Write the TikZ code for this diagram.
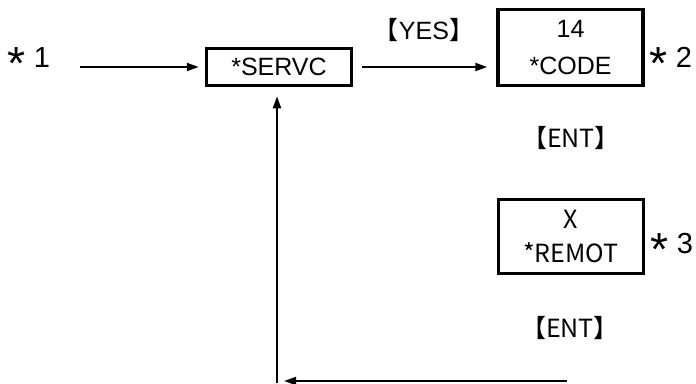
\documentclass[tikz,border=0pt]{standalone}
\usepackage{fontspec}
\setmainfont{Liberation Sans}
\newfontfamily\cjk{Noto Sans CJK JP}
\usetikzlibrary{arrows.meta}
\tikzset{
  box/.style={draw=black, line width=3.5pt, inner sep=0pt, align=center,
    font=\fontsize{25}{37}\selectfont},
  stl/.style={inner sep=0pt, font=\fontsize{29}{32}\selectfont},
  cjl/.style={inner sep=0pt, font=\cjk\fontsize{25}{28}\selectfont},
  conn/.style={line width=2pt, -{Triangle[length=12pt,width=8pt]}},
}
\newcommand{\bstar}{\raisebox{-12pt}{\scalebox{1.6}{*}}\hspace{8pt}}
\begin{document}
\begin{tikzpicture}[x=1pt,y=-1pt]
\useasboundingbox (0,0) rectangle (696,383);
\node[stl] (s1) at (29,64) {\bstar 1};
\node[box, minimum width=145pt, minimum height=37pt] (servc) at (279,67) {*SERVC};
\node[box, minimum width=145pt, minimum height=76pt] (code) at (570.5,47.5) {14\\*CODE};
\node[stl] (s2) at (671,63) {\bstar 2};
\node[cjl] (yes) at (424,30) {【{\rmfamily YES}】};
\node[cjl] (ent1) at (571,138) {【ENT】};
\node[box, minimum width=145pt, minimum height=74pt, font=\cjk\fontsize{25}{34}\selectfont] (remot) at (571,236.5) {X\\*REMOT};
\node[stl] (s3) at (672,249) {\bstar 3};
\node[cjl] (ent2) at (570,328) {【ENT】};
\coordinate (bstart) at (567,381);
\coordinate (bend) at (284,381);
\coordinate (vbot) at (277,383);
\draw[conn, shorten <=30pt, shorten >=6pt] (s1.east |- servc.west) -- (servc.west);
\draw[conn, shorten <=9pt, shorten >=9pt] (servc.east) -- (servc.east -| code.west);
\draw[conn] (bstart) -- (bend);
\draw[conn, shorten >=9pt] (vbot) -- (vbot |- servc.south);
\end{tikzpicture}
\end{document}
